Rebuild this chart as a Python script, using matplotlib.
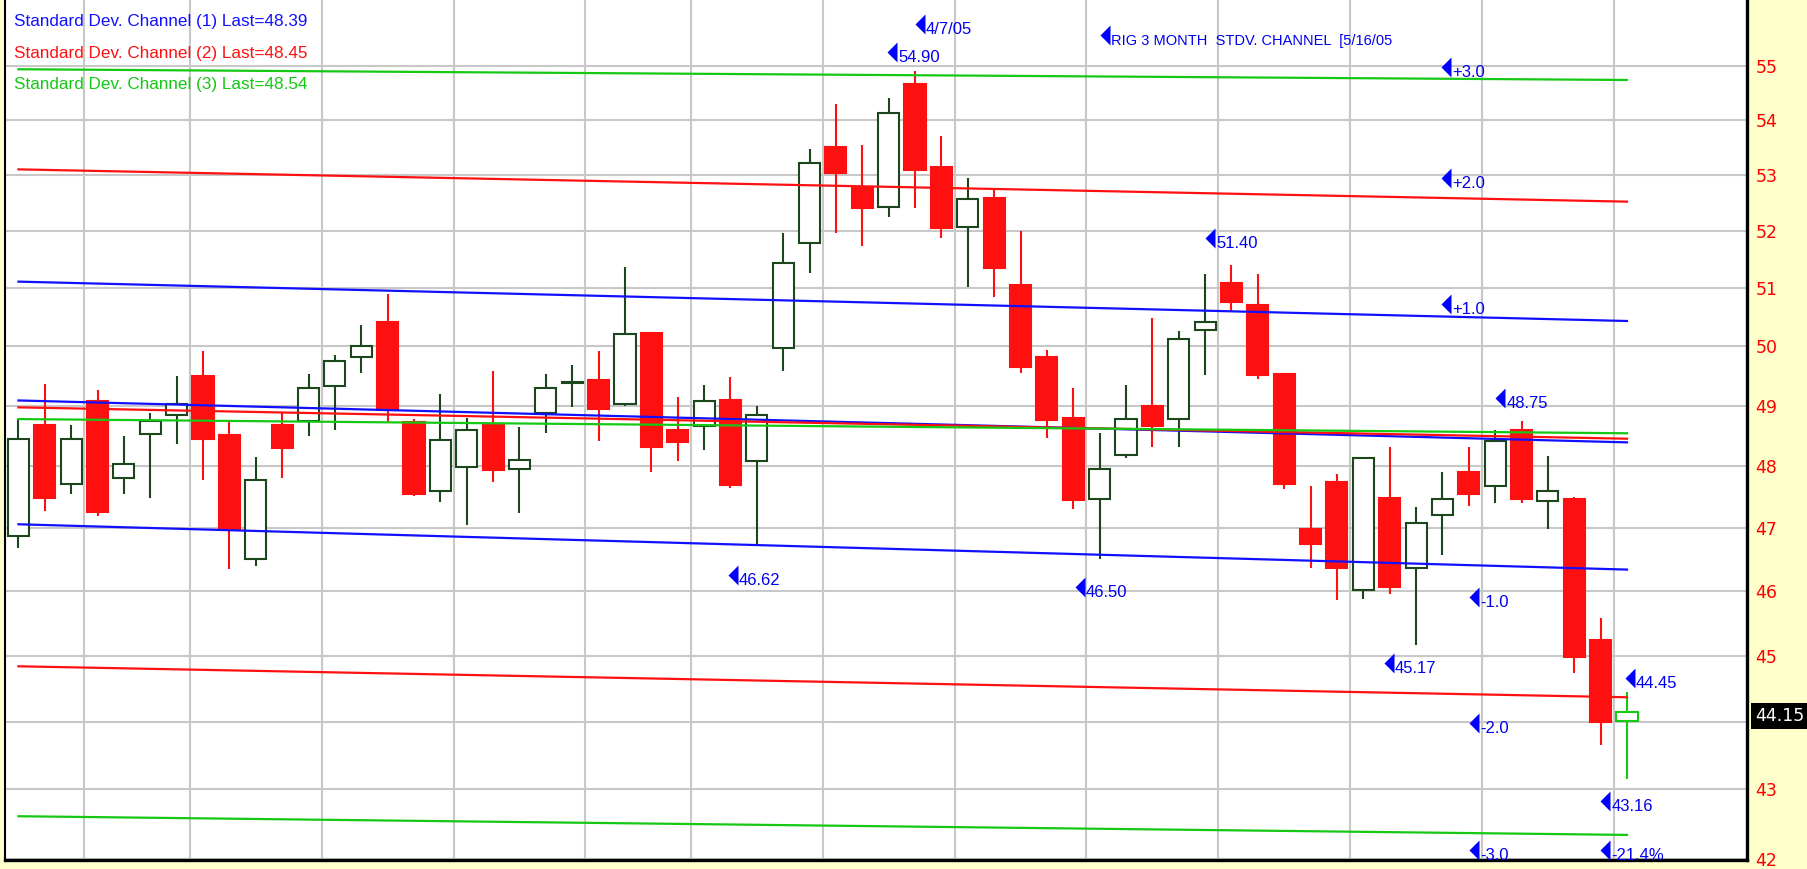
import numpy as np
import pandas as pd
import matplotlib
matplotlib.use('Agg')
import matplotlib.pyplot as plt
from matplotlib.path import Path
from matplotlib.ticker import NullLocator, NullFormatter
from matplotlib import font_manager

# RIG daily bars, 3 months ending 5/16/05 (closed Feb 21 and Good Friday)
days = pd.bdate_range('2005-02-16', '2005-05-16')
days = days[~days.isin(pd.to_datetime(['2005-02-21', '2005-03-25']))]

opens = [46.87, 48.68, 47.71, 49.07, 47.80, 48.52, 48.85, 49.50, 48.51, 46.51,
         48.68, 48.74, 49.32, 49.81, 50.42, 48.73, 47.60, 47.99, 48.69, 47.95,
         48.88, 49.37, 49.42, 49.02, 50.22, 48.60, 48.66, 49.09, 48.09, 49.97,
         51.78, 53.51, 52.78, 52.42, 54.66, 53.15, 52.07, 52.58, 51.05, 49.82,
         48.80, 47.46, 48.19, 48.99, 48.78, 50.27, 51.09, 50.71, 49.53, 46.98,
         47.74, 46.02, 47.48, 46.37, 47.21, 47.91, 47.68, 48.60, 47.43, 47.46,
         45.24, 44.02]
highs = [48.78, 49.36, 48.68, 49.26, 48.50, 48.87, 49.50, 49.92, 48.73, 48.15,
         48.88, 49.53, 49.85, 50.37, 50.90, 48.78, 49.19, 48.80, 49.58, 48.65,
         49.53, 49.68, 49.91, 51.37, 50.25, 49.15, 49.34, 49.48, 48.99, 51.96,
         53.47, 54.30, 53.54, 54.41, 54.90, 53.71, 52.95, 52.73, 51.99, 49.94,
         49.29, 48.55, 49.34, 50.48, 50.26, 51.24, 51.40, 51.24, 49.55, 47.67,
         47.88, 48.15, 48.32, 47.34, 47.91, 48.32, 48.60, 48.75, 48.17, 47.50,
         45.58, 44.45]
lows = [46.68, 47.27, 47.55, 47.20, 47.55, 47.48, 48.36, 47.77, 46.35, 46.39,
        47.80, 48.50, 48.60, 49.55, 48.73, 47.52, 47.41, 47.05, 47.74, 47.24,
        48.55, 48.97, 48.42, 49.00, 47.91, 48.09, 48.27, 47.64, 46.75, 49.58,
        51.26, 51.97, 51.73, 52.25, 52.40, 51.88, 51.02, 50.84, 49.54, 48.46,
        47.30, 46.50, 48.13, 48.32, 48.32, 49.52, 50.58, 49.45, 47.63, 46.36,
        45.86, 45.88, 45.96, 45.17, 46.57, 47.36, 47.40, 47.40, 46.99, 44.74,
        43.65, 43.16]
closes = [48.45, 47.48, 48.45, 47.25, 48.04, 48.75, 49.03, 48.44, 46.98, 47.78,
          48.30, 49.29, 49.74, 50.00, 48.93, 47.55, 48.43, 48.60, 47.94, 48.10,
          49.29, 49.40, 48.94, 50.20, 48.32, 48.39, 49.07, 47.70, 48.85, 51.43,
          53.21, 53.04, 52.40, 54.12, 53.09, 52.05, 52.57, 51.34, 49.65, 48.76,
          47.45, 47.95, 48.78, 48.66, 50.12, 50.42, 50.75, 49.52, 47.71, 46.74,
          46.36, 48.13, 46.07, 47.08, 47.46, 47.54, 48.41, 47.46, 47.60, 44.98,
          44.00, 44.15]

# channel lines: value at first and last bar
blue_mid = [49.085, 48.39]
blue_upper = [51.11, 50.43]
blue_lower = [47.06, 46.34]
red_mid = [48.97, 48.45]
red_upper = [53.10, 52.52]
red_lower = [44.84, 44.37]
green_mid = [48.775, 48.54]
green_upper = [54.94, 54.74]
green_lower = [42.61, 42.34]

price_ticks = list(range(42, 56))

# chart notes: text, bar position, price
note_text = ['4/7/05', '54.90', 'RIG 3 MONTH  STDV. CHANNEL  [5/16/05', '+3.0', '+2.0',
             '51.40', '+1.0', '48.75', '46.62', '46.50', '-1.0', '45.17', '44.45',
             '-2.0', '43.16', '-3.0', '-21.4%']
note_x = [34.19, 33.13, 41.21, 54.14, 54.14, 45.19, 54.14, 56.2, 27.1, 40.26, 55.2,
          51.96, 61.1, 55.2, 60.18, 55.2, 60.18]
note_y = [55.79, 55.26, 55.59, 54.99, 52.95, 51.87, 50.72, 49.12, 46.26, 46.07, 45.91,
          44.89, 44.66, 43.99, 42.83, 42.12, 42.12]

BLUE = '#1010FF'
RED = '#FF1010'
GREEN = '#14C814'
DKGREEN = '#1C461C'

names = {f.name for f in font_manager.fontManager.ttflist}
if 'Liberation Sans Narrow' in names:
    note_family, note_size = 'Liberation Sans Narrow', 14.5
else:
    note_family, note_size = 'Liberation Sans', 12

fig = plt.figure(figsize=(18.07, 8.69), dpi=100, facecolor='#FFFFCC')
ax = fig.add_axes([5 / 1807, 9 / 869, 1742 / 1807, 860 / 869])
ax.set_facecolor('white')
ax.set_yscale('log')

x = np.arange(len(days))
o, h, l, c = map(np.array, (opens, highs, lows, closes))
up = c >= o
edge = np.where(up, DKGREEN, RED).astype(object)
face = np.where(up, 'white', RED).astype(object)
edge[-1] = GREEN
face[-1] = 'white'

ax.vlines(x, l, h, colors=list(edge), lw=1.5, zorder=2)
ax.bar(x, np.abs(c - o), bottom=np.minimum(o, c), width=0.8,
       color=list(face), edgecolor=list(edge), lw=1.5, zorder=3)

ends = [x[0], x[-1]]
for col, chan in [(BLUE, (blue_upper, blue_mid, blue_lower)),
                  (RED, (red_upper, red_mid, red_lower)),
                  (GREEN, (green_upper, green_mid, green_lower))]:
    for line in chan:
        ax.plot(ends, line, color=col, lw=1.6, zorder=4)

# grid: price levels and start of every week
week_start = [i for i in range(1, len(days)) if days[i].weekday() < days[i - 1].weekday()]
ax.set_xticks(np.array(week_start) - 0.5)
ax.set_yticks(price_ticks, labels=[str(t) for t in price_ticks])
ax.yaxis.set_minor_locator(NullLocator())
ax.yaxis.set_minor_formatter(NullFormatter())
ax.grid(True, color='#C8C8C8', lw=1.5, zorder=0)
ax.set_axisbelow(True)
ax.yaxis.tick_right()
ax.tick_params(axis='x', length=0, labelbottom=False)
ax.tick_params(axis='y', length=0, pad=6, labelcolor='#FF0000', labelsize=12.5)

ax.set_xlim(-0.51, 65.55)
ax.set_ylim(41.98, 56.25)

ax.spines['top'].set_visible(False)
ax.spines['left'].set_linewidth(1.5)
ax.spines['right'].set_linewidth(2.4)
ax.spines['bottom'].set_linewidth(2.4)

# legend lines top left
for k, (col, mid) in enumerate([(BLUE, blue_mid), (RED, red_mid), (GREEN, green_mid)]):
    ax.text(0.005, 0.975 - k * 0.0368, f'Standard Dev. Channel ({k + 1}) Last={mid[-1]:.2f}',
            transform=ax.transAxes, color=col, va='center', ha='left',
            family='Liberation Sans', fontsize=12.3, zorder=6)

tri = Path([(0.5, 1), (-0.5, 0), (0.5, -1), (0.5, 1)],
           [Path.MOVETO, Path.LINETO, Path.LINETO, Path.CLOSEPOLY])
for txt, nx, ny in zip(note_text, note_x, note_y):
    size = note_size - 1.5 if txt.startswith('RIG') else note_size
    ax.plot(nx, ny, marker=tri, ms=14.4, color='#0000FF', mec='none', zorder=6, clip_on=False)
    ax.annotate(txt, (nx, ny), xytext=(6, -10), textcoords='offset pixels',
                color='#0000EE', va='baseline', ha='left', zorder=6,
                family=note_family, fontsize=size)

# last price box on the scale (covers most of the 44 label, as in the original)
ax.annotate(f'{closes[-1]:.2f}', xy=(1, closes[-1]), xycoords=ax.get_yaxis_transform(),
            xytext=(8, -4), textcoords='offset pixels', va='center', ha='left',
            color='white', fontsize=12.5, annotation_clip=False, zorder=10,
            bbox=dict(boxstyle='square,pad=0.25', fc='black', ec='none'))

fig.savefig('out.png', dpi=100, facecolor=fig.get_facecolor())
